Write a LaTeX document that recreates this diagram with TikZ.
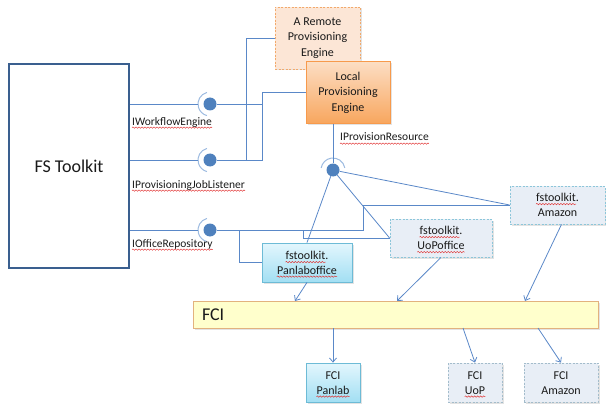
\documentclass[tikz,border=0pt]{standalone}
\usepackage{fontspec}
\setmainfont{Carlito}
\usetikzlibrary{arrows.meta,shadows,calc,decorations.pathmorphing}
\definecolor{lineblue}{HTML}{5A88C8}
\definecolor{sockblue}{HTML}{9DBBE0}
\definecolor{ballblue}{HTML}{4F81BD}
\definecolor{fsborder}{HTML}{3A5F8F}
\definecolor{txt}{HTML}{1A1A1A}
\definecolor{squig}{HTML}{E03030}
\definecolor{remfill}{HTML}{FCE6D6}
\definecolor{remdraw}{HTML}{F2A96B}
\definecolor{loctop}{HTML}{FCDEC4}
\definecolor{locbot}{HTML}{F8A65E}
\definecolor{locdraw}{HTML}{F79A4C}
\definecolor{cyantop}{HTML}{E3F6FD}
\definecolor{cyanbot}{HTML}{A2DFF3}
\definecolor{cyandraw}{HTML}{6DBBD6}
\definecolor{grfill}{HTML}{E8EEF6}
\definecolor{grdraw}{HTML}{8CC6DA}
\definecolor{fcgdraw}{HTML}{A3BCCB}
\definecolor{fcifill}{HTML}{FFFFCC}
\definecolor{fcidraw}{HTML}{E2B27E}
\begin{document}
\begin{tikzpicture}[x=1pt,y=-1pt,
  ln/.style={draw=lineblue, line width=0.8pt},
  sock/.style={draw=sockblue, line width=1pt},
  arr/.style={draw=lineblue, line width=0.8pt, -{Straight Barb[length=4pt,width=7pt]}},
  ball/.style={circle, fill=ballblue, draw=none, minimum size=13pt, inner sep=0pt},
  shad/.style={drop shadow={opacity=0.22, shadow xshift=1.5pt, shadow yshift=-1.5pt}},
  boxtxt/.style={rectangle, inner sep=0pt, align=center, text=txt, font=\fontsize{12}{15.5}\selectfont},
  tl/.style={inner sep=0pt, anchor=base, text=txt, font=\fontsize{12}{15}\selectfont},
  dsh/.style={dash pattern=on 2pt off 1.5pt},
  ifl/.style={inner sep=0pt, anchor=base west, text=txt, font=\fontsize{11.5}{13}\selectfont},
  squiggle/.style={draw=squig, line width=0.45pt, decorate, decoration={snake, amplitude=0.7pt, segment length=3pt}}]
\useasboundingbox (0,0) rectangle (606,404);

% FS Toolkit
\node[rectangle, draw=fsborder, line width=1.6pt, fill=white, minimum width=120pt, minimum height=204pt, text=txt, font=\fontsize{18}{21}\selectfont] (fs) at (69,166) {FS Toolkit};

% engines
\node[boxtxt, shad, fill=remfill, draw=remdraw, dsh, line width=0.8pt, minimum width=85pt, minimum height=62pt] (rem) at (317.5,38) {A Remote\\Provisioning\\Engine};
\node[boxtxt, shad, top color=loctop, bottom color=locbot, draw=locdraw, line width=0.8pt, minimum width=84pt, minimum height=62pt] (loc) at (348,92.5) {Local\\Provisioning\\Engine};

% office boxes
\node[boxtxt, shad, top color=cyantop, bottom color=cyanbot, draw=cyandraw, line width=0.8pt, minimum width=90pt, minimum height=39pt] (pan) at (307,262.5) {};
\node[tl] (pan1) at (307,259.5) {fstoolkit.};
\node[tl] (pan2) at (307,274) {Panlaboffice};
\node[boxtxt, shad, fill=grfill, draw=grdraw, dsh, line width=0.8pt, minimum width=102pt, minimum height=38pt] (uop) at (441,238) {};
\node[tl] (uop1) at (441,234.5) {fstoolkit.};
\node[tl] (uop2) at (441,249.5) {UoPoffice};
\node[boxtxt, shad, fill=grfill, draw=grdraw, dsh, line width=0.8pt, minimum width=95pt, minimum height=38pt] (amz) at (557.5,205) {};
\node[tl] (amz1) at (557.5,201.5) {fstoolkit.};
\node[tl] (amz2) at (557.5,216.5) {Amazon};

% FCI bar
\node[rectangle, shad, fill=fcifill, draw=fcidraw, line width=0.8pt, minimum height=27pt, inner xsep=9pt, inner ysep=0pt, text width=387pt, align=left, text=txt, font=\fontsize{18}{21}\selectfont] (fci) at (395.5,314.5) {FCI};

% FCI leaves
\node[boxtxt, shad, top color=cyantop, bottom color=cyanbot, draw=cyandraw, line width=0.8pt, minimum width=54pt, minimum height=39pt] (fcip) at (333,382.5) {};
\node[tl] (fcip1) at (333,379) {FCI};
\node[tl] (fcip2) at (333,394) {Panlab};
\node[boxtxt, shad, fill=grfill, draw=fcgdraw, dsh, line width=0.8pt, minimum width=54pt, minimum height=39pt] (fciu) at (475,382.5) {};
\node[tl] (fciu1) at (475,379) {FCI};
\node[tl] (fciu2) at (475,394) {UoP};
\node[boxtxt, shad, fill=grfill, draw=fcgdraw, dsh, line width=0.8pt, minimum width=74pt, minimum height=39pt] (fcia) at (561,382.5) {};
\node[tl] (fcia1) at (561,379) {FCI};
\node[tl] (fcia2) at (561,394) {Amazon};

% balls
\node[ball] (b1) at (210,104) {};
\node[ball] (b2) at (210,160) {};
\node[ball] (b4) at (210,230) {};
\node[ball] (b3) at (333,170) {};

% sockets
\foreach \b in {b1,b2,b4}{
  \draw[sock] (\b.center) ++(105:12pt) arc[start angle=105, end angle=255, radius=12pt];
  \draw[ln] (fs.east |- \b.center) -- ([xshift=-12pt]\b.center);
}
\draw[sock] (b3.center) ++(10:12pt) arc[start angle=10, end angle=170, radius=12pt];

% interface labels
\node[ifl] (l1) at (132,125) {IWorkflowEngine};
\node[ifl] (l2) at (132,188) {IProvisioningJobListener};
\node[ifl] (l4) at (132,247) {IOfficeRepository};
\node[ifl] (l3) at (340,141) {IProvisionResource};

% spell-check squiggles
\foreach \n/\e in {l1/0,l2/0,l3/0,l4/0,pan1/3,pan2/0,uop1/3,uop2/0,amz1/3,fcip2/0,fciu2/0}
  \draw[squiggle] ([yshift=-2.6pt]\n.base west) -- ([yshift=-2.6pt,xshift=-\e pt]\n.base east);

% junction coordinates
\coordinate (j1) at (262,104);
\coordinate (j2) at (262,160);
\coordinate (j3) at (246,160);
\coordinate (j4) at (363,230);
\coordinate (j5) at (303,230);
\coordinate (j6) at (239,230);

% engine wiring
\draw[ln] (b1) -- (j1);
\draw[ln] (b2) -- (j2) |- (loc.west);
\draw[ln] (j3) |- (rem.west);

% resource wiring
\draw[ln] (b3) -- (b3 |- loc.south);
\draw[ln] (b3) -- (pan.north);
\draw[ln] (b3) -- (uop.west);
\draw[ln] (b3) -- (amz.west);

% office repository wiring
\draw[ln] (b4) -- (j4) |- (amz.west);
\draw[ln] (j5) |- (uop.west);
\draw[ln] (j6) |- (pan.west);

% arrows into FCI
\coordinate (f1) at (295,301);
\coordinate (f2) at (397,301);
\coordinate (f3) at (525,301);
\draw[arr] (pan.south) -- (f1);
\draw[arr] (uop.south) -- (f2);
\draw[arr] ([xshift=4pt]amz.south) -- (f3);

% arrows out of FCI
\coordinate (g1) at (333,328);
\coordinate (g2) at (463,328);
\coordinate (g3) at (538,328);
\draw[arr] (g1) -- (fcip.north);
\draw[arr] (g2) -- (fciu.north);
\draw[arr] (g3) -- (fcia.north);
\end{tikzpicture}
\end{document}
